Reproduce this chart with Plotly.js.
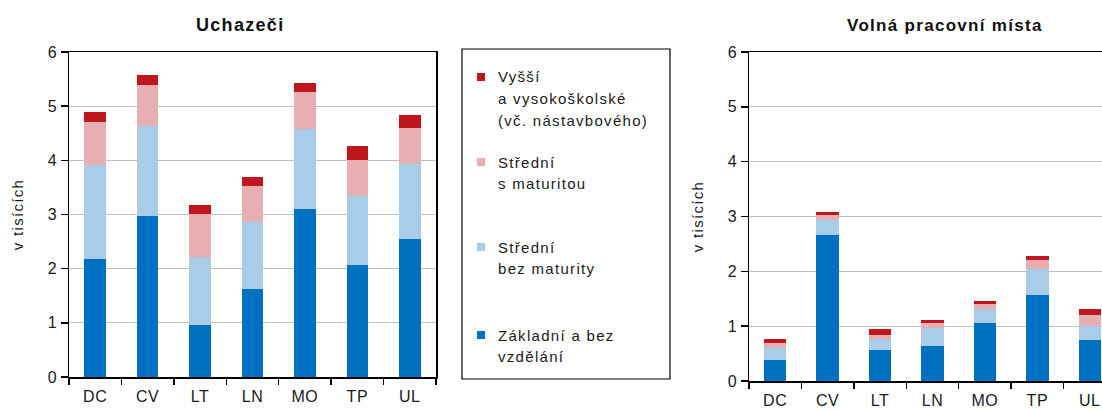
<!DOCTYPE html>
<html>
<head>
<meta charset="utf-8">
<script src="https://cdn.plot.ly/plotly-3.0.1.min.js"></script>
<style>
  html, body { margin: 0; padding: 0; overflow: hidden; background: #fff; }
  #chart { width: 1120px; height: 410px; }
  .xtick text, .x2tick text, .ytick text, .y2tick text { letter-spacing: 0.6px; }
  .ytitle, .y2title { letter-spacing: 1.3px; }
  .annotation-text { letter-spacing: 1.3px; }
</style>
</head>
<body>
<div id="chart"></div>
<script>
// ---- data ----
const categories = ['DC', 'CV', 'LT', 'LN', 'MO', 'TP', 'UL'];
const seriesNames = ['Základní a bez vzdělání', 'Střední bez maturity', 'Střední s maturitou', 'Vyšší a vysokoškolské (vč. nástavbového)'];
const legendLines = [
  ['Základní a bez', 'vzdělání'],
  ['Střední', 'bez maturity'],
  ['Střední', 's maturitou'],
  ['Vyšší', 'a vysokoškolské', '(vč. nástavbového)']
];
// Uchazeči (thousands)
const uchZakladni = [2.17, 2.97, 0.96, 1.62, 3.11, 2.07, 2.55];
const uchBezMat   = [1.74, 1.66, 1.25, 1.25, 1.46, 1.28, 1.39];
const uchSMat     = [0.79, 0.76, 0.80, 0.66, 0.69, 0.66, 0.66];
const uchVyssi    = [0.20, 0.18, 0.17, 0.17, 0.17, 0.25, 0.24];
// Volná pracovní místa (thousands)
const vpmZakladni = [0.39, 2.66, 0.57, 0.63, 1.05, 1.56, 0.74];
const vpmBezMat   = [0.21, 0.28, 0.20, 0.34, 0.27, 0.48, 0.26];
const vpmSMat     = [0.09, 0.09, 0.06, 0.08, 0.09, 0.16, 0.21];
const vpmVyssi    = [0.08, 0.05, 0.11, 0.06, 0.05, 0.08, 0.11];
const yTicks = [0, 1, 2, 3, 4, 5, 6];
const titleLeft = 'Uchazeči';
const titleRight = 'Volná pracovní místa';
const yTitle = 'v tisících';

// ---- styles ----
const colors = ['#0070C0', '#A9CDE8', '#E8AFB3', '#C0171F'];
const FONT = '"Liberation Sans", Arial, sans-serif';
const W = 1120, H = 410;

const uch = [uchZakladni, uchBezMat, uchSMat, uchVyssi];
const vpm = [vpmZakladni, vpmBezMat, vpmSMat, vpmVyssi];

const traces = [];
uch.forEach((vals, i) => traces.push({
  type: 'bar', x: categories, y: vals, name: seriesNames[i],
  marker: { color: colors[i], line: { width: 0 } }, width: 0.41,
  xaxis: 'x', yaxis: 'y', hoverinfo: 'y'
}));
vpm.forEach((vals, i) => traces.push({
  type: 'bar', x: categories, y: vals, name: seriesNames[i],
  marker: { color: colors[i], line: { width: 0 } }, width: 0.43,
  xaxis: 'x2', yaxis: 'y2', hoverinfo: 'y'
}));

function xAxis(domain, anchor) {
  return {
    domain: domain, anchor: anchor, type: 'category', range: [-0.5, 6.5], fixedrange: true,
    showline: true, linecolor: '#000', linewidth: 1.5, mirror: true,
    ticks: 'outside', tickson: 'boundaries', ticklen: 6, tickcolor: '#000', tickwidth: 1.5,
    ticklabelstandoff: 4,
    showgrid: false, zeroline: false,
    tickfont: { family: FONT, size: 16, color: '#1a1a1a' }
  };
}
function yAxis(domain, anchor) {
  return {
    domain: domain, anchor: anchor, range: [0, 6], fixedrange: true,
    tickvals: yTicks, ticktext: yTicks.map(String),
    showline: true, linecolor: '#000', linewidth: 1.5, mirror: true,
    ticks: 'outside', ticklen: 7, tickcolor: '#000', tickwidth: 1.5,
    showgrid: true, gridcolor: '#C0C0C0', gridwidth: 1.3, zeroline: false,
    tickfont: { family: FONT, size: 16, color: '#1a1a1a' },
    title: { text: yTitle, font: { family: FONT, size: 15, color: '#1a1a1a' }, standoff: 20 }
  };
}

const annotations = [
  { text: '<b>' + titleLeft + '</b>', xref: 'paper', yref: 'paper', x: 240 / W, y: 1 - 25 / H,
    xanchor: 'center', yanchor: 'middle', showarrow: false, font: { family: FONT, size: 18, color: '#111' } },
  { text: '<b>' + titleRight + '</b>', xref: 'paper', yref: 'paper', x: 945 / W, y: 1 - 25 / H,
    xanchor: 'center', yanchor: 'middle', showarrow: false, font: { family: FONT, size: 17, color: '#111' } }
];
const shapes = [
  { type: 'rect', xref: 'paper', yref: 'paper', x0: 462 / W, x1: 670 / W, y0: 1 - 379 / H, y1: 1 - 49 / H,
    line: { color: '#000', width: 1.2 }, fillcolor: 'rgba(0,0,0,0)' }
];
// legend layout (top to bottom: series 3,2,1,0)
const legendTop = [77, 162, 247, 335];
const lineGap = 21.5;
[3, 2, 1, 0].forEach((s, k) => {
  const y0 = legendTop[k];
  shapes.push({ type: 'rect', xref: 'paper', yref: 'paper',
    x0: 477 / W, x1: 485 / W, y0: 1 - (y0 + 4) / H, y1: 1 - (y0 - 4) / H,
    line: { width: 0 }, fillcolor: colors[s] });
  legendLines[s].forEach((ln, j) => {
    annotations.push({ text: ln, xref: 'paper', yref: 'paper', x: 496 / W, y: 1 - (y0 + j * lineGap) / H,
      xanchor: 'left', yanchor: 'middle', showarrow: false,
      font: { family: FONT, size: 15, color: '#1a1a1a' } });
  });
});

const layout = {
  width: W, height: H, margin: { l: 0, r: 0, t: 0, b: 0 },
  paper_bgcolor: '#fff', plot_bgcolor: '#fff',
  barmode: 'stack', showlegend: false,
  xaxis: xAxis([69 / W, 436 / W], 'y'),
  yaxis: yAxis([33 / H, 358 / H], 'x'),
  xaxis2: xAxis([749 / W, 1116 / W], 'y2'),
  yaxis2: yAxis([29 / H, 358 / H], 'x2'),
  annotations: annotations, shapes: shapes,
  font: { family: FONT }
};

Plotly.newPlot('chart', traces, layout, { staticPlot: true, displayModeBar: false });
</script>
</body>
</html>
